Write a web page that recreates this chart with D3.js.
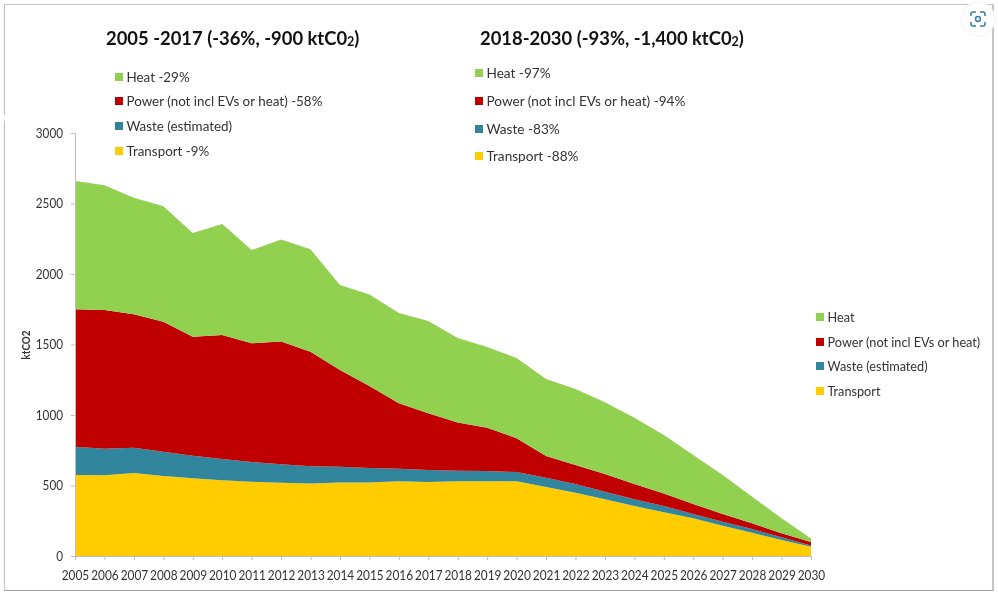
<!DOCTYPE html>
<html><head><meta charset="utf-8">
<script src="https://cdn.jsdelivr.net/npm/d3@7"></script>
<style>
html,body{margin:0;padding:0;background:#fff;overflow:hidden}
svg{display:block;filter:blur(0.35px)}
text{font-family:Lato,"Open Sans",sans-serif;fill:#333}
</style></head><body>
<svg id="c" width="998" height="595"></svg>
<script>
const years=d3.range(2005,2031).map(String);
const transport=[575,572,589,567,551,537,527,520,515,522,522,530,525,530,530,530,490,449,402,355,310,267,215,165,113,66];
const waste=[200,188,179,173,160,151,140,130,121,111,102,89,85,75,73,65,65,62,54,47,45,31,28,26,20,9];
const power=[975,985,947,922,844,879,841,872,813,686,582,464,402,341,307,240,154,134,125,109,89,71,55,41,28,24];
const heat=[910,885,825,818,735,788,662,723,726,603,649,640,655,600,572,569,546,539,509,469,414,347,276,188,107,26];
const seriesNames=["Transport","Waste (estimated)","Power (not incl EVs or heat)","Heat"];
const seriesColors=["#FFCC00","#31859C","#C00000","#92D050"];
const seriesValues=[transport,waste,power,heat];
const yTicks=[0,500,1000,1500,2000,2500,3000];
const legendMain=["Heat","Power (not incl EVs or heat)","Waste (estimated)","Transport"];
const legendLeft=["Heat -29%","Power (not incl EVs or heat) -58%","Waste (estimated)","Transport -9%"];
const legendRight=["Heat -97%","Power (not incl EVs or heat) -94%","Waste -83%","Transport -88%"];
const legendColors=["#92D050","#C00000","#31859C","#FFCC00"];

const svg=d3.select("#c");
// outer frame
const frame=svg.append("g").attr("fill","none");
frame.append("path").attr("d","M4.5,115V4.5H993").attr("stroke","#c4c4c4").attr("stroke-width",1.2);
frame.append("path").attr("d","M4.5,120.5V590.5").attr("stroke","#c4c4c4").attr("stroke-width",1.2);
frame.append("path").attr("d","M993,4.5V590.5H4.5").attr("stroke","#a0a0a0").attr("stroke-width",1.2);

const x=d3.scalePoint().domain(years).range([75,811]);
const y=d3.scaleLinear().domain([0,3000]).range([556,133]);

const rows=years.map((yr,i)=>{const r={year:yr};seriesNames.forEach((n,j)=>r[n]=seriesValues[j][i]);return r;});
const stacked=d3.stack().keys(seriesNames)(rows);
const area=d3.area().x(d=>x(d.data.year)).y0(d=>y(d[0])).y1(d=>y(d[1]));
svg.append("g").selectAll("path").data(stacked).join("path")
  .attr("d",area).attr("fill",(d,i)=>seriesColors[i]);

// axes
const gy=svg.append("g").attr("transform","translate(75,0)")
  .call(d3.axisLeft(y).tickValues(yTicks).tickSize(4).tickPadding(8).tickFormat(d3.format("d")));
const gx=svg.append("g").attr("transform","translate(0,556)")
  .call(d3.axisBottom(x).tickSize(4).tickPadding(10));
[gy,gx].forEach(g=>{
  g.selectAll(".domain,line").attr("stroke","#bdbdbd");
  g.selectAll("text").attr("font-family","Lato").attr("font-size",14).attr("fill","#333");
});
gx.selectAll("text").attr("textLength",27.5).attr("lengthAdjust","spacingAndGlyphs");
gy.selectAll("text").attr("textLength",function(){return this.textContent.length*6.8}).attr("lengthAdjust","spacingAndGlyphs");

svg.append("text").attr("transform","translate(30,345) rotate(-90)").attr("text-anchor","middle")
  .attr("font-size",11).attr("font-weight",700).attr("textLength",29).attr("lengthAdjust","spacingAndGlyphs").text("ktCO2");

// titles
function title(px,main){
  const t=svg.append("text").attr("x",px).attr("y",45).attr("font-size",18.4).attr("font-weight",700).style("fill","#111");
  t.append("tspan").text(main);
  t.append("tspan").attr("font-size",12.5).attr("dy",1).text("2");
  t.append("tspan").attr("dy",-1).text(")");
}
title(106,"2005 -2017 (-36%, -900 ktC0");
title(480,"2018-2030 (-93%, -1,400 ktC0");

// legends
function legend(labels,sx,ys,fs){
  const g=svg.append("g");
  g.selectAll("rect").data(labels).join("rect")
    .attr("x",sx).attr("y",(d,i)=>ys[i]-4).attr("width",8).attr("height",8)
    .attr("fill",(d,i)=>legendColors[i]);
  g.selectAll("text").data(labels).join("text")
    .attr("x",sx+11.5).attr("y",(d,i)=>ys[i]+4.5).attr("font-size",fs).text(d=>d);
}
legend(legendLeft,115,[77,101,126,151],13.4);
legend(legendRight,475,[73,101,129,156],13.6);
legend(legendMain,816,[317,342,366,391],12.7);

// viewer badge
const b=svg.append("g").attr("transform","translate(978,19)");
b.append("circle").attr("r",17).attr("fill","#fff").attr("stroke","#f2f2f2");
b.append("path").attr("fill","none").attr("stroke","#2f7f9f").attr("stroke-width",1.5)
 .attr("d","M-7,-3V-5a2,2 0 0 1 2,-2H-2M2,-7H5a2,2 0 0 1 2,2V-3M7,3V5a2,2 0 0 1 -2,2H2M-2,7H-5a2,2 0 0 1 -2,-2V3");
b.append("circle").attr("r",2.4).attr("fill","none").attr("stroke","#2f7f9f").attr("stroke-width",1.5);
</script>
</body></html>
